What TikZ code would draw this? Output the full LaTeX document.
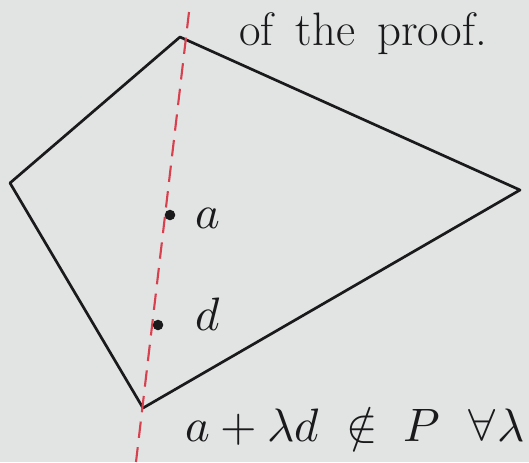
\documentclass[tikz,border=0pt]{standalone}
\usepackage{tikz}
\usepackage{xcolor}
\usepackage{unicode-math}
\setmathfont{Latin Modern Math}
\definecolor{pfPaper}{HTML}{E2E3E3}
\definecolor{pfInk}{HTML}{1A1A1C}
\definecolor{pfRed}{HTML}{D8404E}
\tikzset{
  edge/.style={draw=pfInk,line width=2.3pt,line join=round},
  cut/.style={draw=pfRed,line width=1.8pt,dash pattern=on 14pt off 8pt},
  pt/.style={circle,fill=pfInk,inner sep=0pt,minimum size=9pt},
  lbl/.style={text=pfInk,inner sep=1pt,font=\fontsize{40}{44}\selectfont},
}

\begin{document}
\begin{tikzpicture}[x=0.03cm,y=-0.03cm]
  \fill[pfPaper] (0,0) rectangle (529,462);
  \useasboundingbox (0,0) rectangle (529,462);
  \begin{scope}
  \clip (0,0) rectangle (529,462);
  % polygon P
  \coordinate (top) at (180,37);
  \coordinate (right) at (520,190);
  \coordinate (bottom) at (143,408);
  \coordinate (left) at (10,183);
  \draw[edge] (top) -- (right) -- (bottom) -- (left) -- cycle;
  % the line through a in direction d
  \coordinate (ltop) at (189,12);
  \coordinate (lbot) at (136,462);
  \draw[cut] (ltop) -- (lbot);
  \node[pt] (a) at (170,215) {};
  \node[pt] (d) at (158,325) {};
  \node[lbl,anchor=west] (alab) at (194,218) {$a$};
  \node[lbl,anchor=west] (dlab) at (194,314) {$d$};
  \node[lbl,anchor=west] (proof) at (238,34) {of\, the\, proof.};
  \node[lbl,anchor=west] (claim) at (184,430) {$a+\lambda d\;\notin\;P\;\;\forall\lambda$};
  \end{scope}
\end{tikzpicture}
\end{document}
